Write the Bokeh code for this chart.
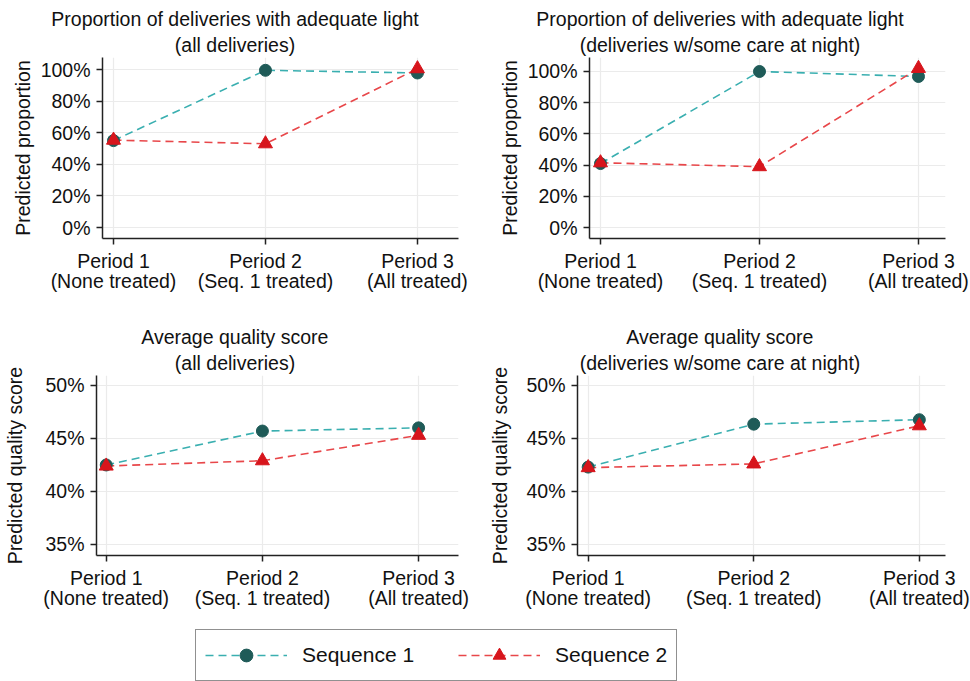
from bokeh.plotting import figure
from bokeh.models import (FixedTicker, NumeralTickFormatter, Range1d, Legend, LegendItem, Title)
from bokeh.layouts import column, row
from bokeh.embed import file_html
from bokeh.resources import INLINE

# ---------------- data ----------------
periods = [1, 2, 3]
period_labels = ["Period 1\n(None treated)", "Period 2\n(Seq. 1 treated)", "Period 3\n(All treated)"]

light_all_seq1 = [0.55, 0.995, 0.978]
light_all_seq2 = [0.553, 0.53, 1.005]
light_night_seq1 = [0.41, 1.0, 0.968]
light_night_seq2 = [0.415, 0.39, 1.02]
quality_all_seq1 = [0.425, 0.457, 0.460]
quality_all_seq2 = [0.424, 0.429, 0.453]
quality_night_seq1 = [0.423, 0.4635, 0.4677]
quality_night_seq2 = [0.4225, 0.426, 0.462]

prop_ticks = [0, 0.2, 0.4, 0.6, 0.8, 1.0]
qual_ticks = [0.35, 0.40, 0.45, 0.50]

titles = [
    ["Proportion of deliveries with adequate light", "(all deliveries)"],
    ["Proportion of deliveries with adequate light", "(deliveries w/some care at night)"],
    ["Average quality score", "(all deliveries)"],
    ["Average quality score", "(deliveries w/some care at night)"],
]
ylabels = ["Predicted proportion", "Predicted proportion",
           "Predicted quality score", "Predicted quality score"]
series_names = ["Sequence 1", "Sequence 2"]

# ---------------- style ----------------
FONT = "Liberation Sans"
FS = 19.5
TXT = "#111111"
TEAL_LINE = "#3aafb0"
TEAL_MARK = "#1f5b58"
RED_LINE = "#e8474a"
RED_MARK = "#d7151c"
DASH = "8 5"

# Arial / Liberation Sans advance widths (per 1000 em) for title centring
_W = {" ": 278, "(": 333, ")": 333, "/": 278, "A": 667, "P": 667, "a": 556,
      "c": 500, "d": 556, "e": 556, "f": 278, "g": 556, "h": 556, "i": 222,
      "l": 222, "m": 833, "n": 556, "o": 556, "p": 556, "q": 556, "r": 333,
      "s": 500, "t": 278, "u": 556, "v": 500, "w": 722, "y": 500}


def text_width(s, size):
    return sum(_W.get(ch, 556) for ch in s) / 1000.0 * size


TITLE_CENTER = 234.5  # title centre, px from the figure's left edge


def make_panel(title_lines, ylabel, s1, s2, ticks, xr, yr, width, height,
               bl, br, bt, bb, label_standoff):
    p = figure(width=width, height=height, output_backend="svg",
               toolbar_location=None,
               x_range=Range1d(*xr), y_range=Range1d(*yr),
               min_border_left=bl, min_border_right=br,
               min_border_top=bt, min_border_bottom=bb)
    # title lines: first added sits nearest the frame
    for line, so in ((title_lines[1], 4), (title_lines[0], 0)):
        off = TITLE_CENTER - text_width(line, FS) / 2 - bl
        p.add_layout(Title(text=line, align="left", offset=off, text_font=FONT,
                           text_font_size=f"{FS}px", text_font_style="normal",
                           text_line_height=1.0,
                           text_color=TXT, standoff=so), "above")
    p.outline_line_color = None
    p.background_fill_color = "white"
    p.border_fill_color = "white"

    p.xaxis.ticker = FixedTicker(ticks=periods)
    p.xaxis.major_label_overrides = {k: v for k, v in zip(periods, period_labels)}
    p.yaxis.ticker = FixedTicker(ticks=ticks)
    p.yaxis.formatter = NumeralTickFormatter(format="0%")
    p.yaxis.axis_label = ylabel
    for ax in (p.xaxis, p.yaxis):
        ax.axis_line_color = "#222222"
        ax.axis_line_width = 1.5
        ax.major_tick_line_color = "#222222"
        ax.major_tick_line_width = 1.5
        ax.major_tick_in = 0
        ax.major_tick_out = 6
        ax.minor_tick_line_color = None
        ax.major_label_text_font = FONT
        ax.major_label_text_font_size = f"{FS}px"
        ax.major_label_text_color = TXT
        ax.major_label_text_line_height = 0.95
        ax.axis_label_text_font = FONT
        ax.axis_label_text_font_size = f"{FS}px"
        ax.axis_label_text_font_style = "normal"
        ax.axis_label_text_color = TXT
    p.xaxis.major_label_standoff = 5
    p.yaxis.major_label_standoff = 6
    p.yaxis.axis_label_standoff = label_standoff
    p.xgrid.grid_line_color = "#ebebeb"
    p.ygrid.grid_line_color = "#ebebeb"
    p.xgrid.grid_line_width = 1.2
    p.ygrid.grid_line_width = 1.2

    p.line(periods, s1, line_color=TEAL_LINE, line_width=1.6, line_dash=DASH)
    p.line(periods, s2, line_color=RED_LINE, line_width=1.6, line_dash=DASH)
    p.scatter(periods, s1, marker="circle", size=12, fill_color=TEAL_MARK,
              line_color=TEAL_MARK)
    p.scatter(periods, s2, marker="triangle", size=14, fill_color=RED_MARK,
              line_color=RED_MARK)
    return p


p1 = make_panel(titles[0], ylabels[0], light_all_seq1, light_all_seq2, prop_ticks,
                (0.9276, 3.27), (-0.0696, 1.076), 485, 318, 102, 27, 57, 80, 4)
p2 = make_panel(titles[1], ylabels[1], light_night_seq1, light_night_seq2, prop_ticks,
                (0.9308, 3.17), (-0.0705, 1.0897), 485, 318, 104, 25, 57, 80, 4)
p3 = make_panel(titles[2], ylabels[2], quality_all_seq1, quality_all_seq2, qual_ticks,
                (0.9377, 3.2555), (0.3396, 0.5094), 485, 302, 96, 27, 57, 65, 16)
p4 = make_panel(titles[3], ylabels[3], quality_night_seq1, quality_night_seq2, qual_ticks,
                (0.9355, 3.158), (0.3396, 0.5094), 485, 302, 92, 25, 57, 65, 12)

# ---------------- legend strip ----------------
leg = figure(width=970, height=61, output_backend="svg", toolbar_location=None,
             x_range=Range1d(0, 1), y_range=Range1d(0, 1),
             min_border_left=0, min_border_right=0, min_border_top=0,
             min_border_bottom=0)
leg.outline_line_color = None
leg.axis.visible = False
leg.grid.visible = False
l1 = leg.line(periods, light_all_seq1, line_color=TEAL_LINE, line_width=1.6, line_dash=DASH)
m1 = leg.scatter(periods, light_all_seq1, marker="circle", size=12,
                 fill_color=TEAL_MARK, line_color=TEAL_MARK)
l2 = leg.line(periods, light_all_seq2, line_color=RED_LINE, line_width=1.6, line_dash=DASH)
m2 = leg.scatter(periods, light_all_seq2, marker="triangle", size=14,
                 fill_color=RED_MARK, line_color=RED_MARK)
for r in (l1, m1, l2, m2):
    r.visible = False
legend = Legend(items=[LegendItem(label=series_names[0], renderers=[l1, m1]),
                       LegendItem(label=series_names[1], renderers=[l2, m2])],
                orientation="horizontal", location=(195, 0),
                click_policy="none",
                glyph_width=82, glyph_height=32, label_standoff=15, spacing=44,
                padding=9, margin=0,
                label_text_font=FONT, label_text_font_size="21px",
                label_text_color=TXT,
                border_line_color="#222222", border_line_width=1.5,
                background_fill_color="white", background_fill_alpha=1)
leg.add_layout(legend, "center")

layout = column(row(p1, p2), row(p3, p4), leg, spacing=0)

open("out.html", "w").write(file_html(layout, INLINE))
